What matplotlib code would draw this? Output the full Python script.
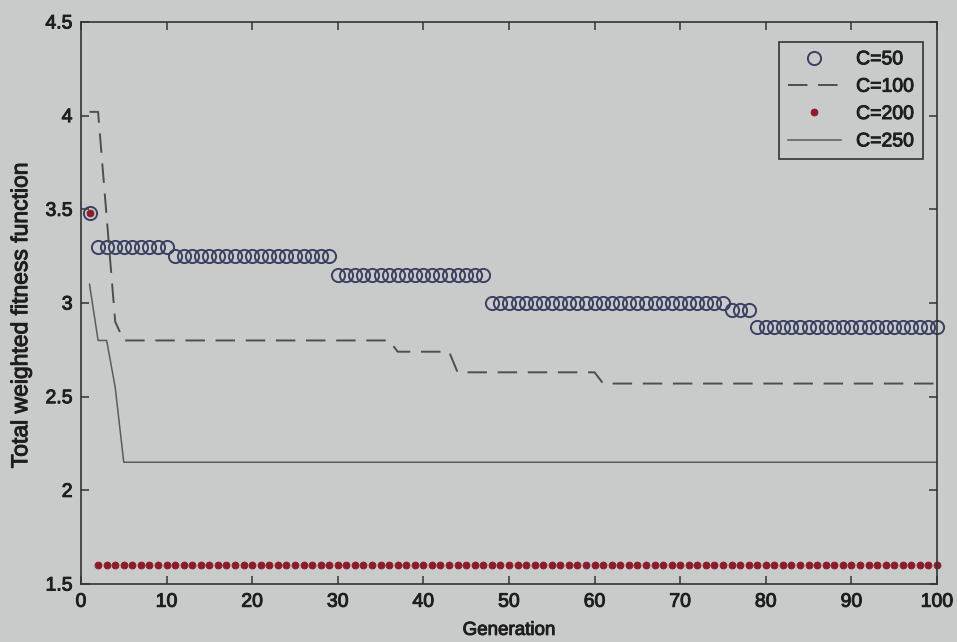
#!/usr/bin/env python3
# -*- coding: utf-8 -*-

import numpy as np
import matplotlib
matplotlib.use('Agg')
import matplotlib.pyplot as plt
import matplotlib.patheffects as pe

plt.rcParams['font.family'] = ['Liberation Sans', 'DejaVu Sans']

# best total weighted fitness per generation, stored as (level, run length)
gen = np.arange(1, 101)

c50_levels = [3.48, 3.30, 3.25, 3.15, 3.00, 2.96, 2.87]
c50_runs = [1, 9, 19, 18, 28, 3, 22]

c100_levels = [4.02, 4.02, 3.46, 2.90, 2.80, 2.74, 2.63, 2.57]
c100_runs = [1, 1, 1, 1, 32, 7, 17, 40]

c200_levels = [3.48, 1.60]
c200_runs = [1, 99]

c250_levels = [3.10, 2.80, 2.80, 2.55, 2.15]
c250_runs = [1, 1, 1, 1, 96]

labels = ['C=50', 'C=100', 'C=200', 'C=250']

c50 = np.repeat(c50_levels, c50_runs)
c100 = np.repeat(c100_levels, c100_runs)
c200 = np.repeat(c200_levels, c200_runs)
c250 = np.repeat(c250_levels, c250_runs)

bg = '#c8cbca'
ink = '#1e1e1e'
# thicken the glyphs a little, like printed Helvetica
heavy = [pe.withStroke(linewidth=0.7, foreground=ink)]

fig = plt.figure(figsize=(9.57, 6.42), dpi=100, facecolor=bg)
ax = fig.add_axes([0.0846, 0.0903, 0.8945, 0.8755], facecolor=bg)

ax.plot(gen, c50, 'o', mfc='none', mec='#3b4063', ms=9.5, mew=1.4,
        label=labels[0], clip_on=False)
l100, = ax.plot(gen, c100, '--', color='#4a504f', lw=1.4, label=labels[1])
l100.set_dashes((10, 5.5))
ax.plot(gen, c200, 'o', color='#8c1b2b', mec='#8c1b2b', ms=5, mew=0.6,
        label=labels[2], clip_on=False)
ax.plot(gen, c250, '-', color='#52605e', lw=1.1, label=labels[3])

ax.set_xlim(0, 100)
ax.set_ylim(1.5, 4.5)
ax.set_xticks(np.arange(0, 101, 10))
ax.set_yticks([1.5, 2, 2.5, 3, 3.5, 4, 4.5])
ax.set_yticklabels(['1.5', '2', '2.5', '3', '3.5', '4', '4.5'])
ax.tick_params(direction='in', top=True, right=True, length=6, width=1.1,
               color='#333333', labelsize=14, labelcolor=ink)
ax.tick_params(axis='x', pad=7)
ax.tick_params(axis='y', pad=6)
for s in ax.spines.values():
    s.set_color('#333333')
    s.set_linewidth(1.2)

ax.set_xlabel('Generation', fontsize=13.5, color=ink, labelpad=8,
              path_effects=heavy)
ax.set_ylabel('Total weighted fitness function', fontsize=16.5, color=ink,
              path_effects=heavy)
ax.yaxis.set_label_coords(-0.057, 0.478)
for t in ax.get_xticklabels() + ax.get_yticklabels():
    t.set_path_effects(heavy)

leg = ax.legend(loc='upper right', bbox_to_anchor=(0.9836, 0.9644),
                borderaxespad=0, fontsize=14, numpoints=1, handlelength=2.7,
                handletextpad=0.8, labelspacing=0.5, borderpad=0.45,
                fancybox=False, framealpha=1, facecolor=bg,
                edgecolor='#333333')
leg.get_frame().set_linewidth(1.2)
for t in leg.get_texts():
    t.set_color(ink)
    t.set_path_effects(heavy)

fig.savefig('out.png', dpi=100, facecolor=bg)
